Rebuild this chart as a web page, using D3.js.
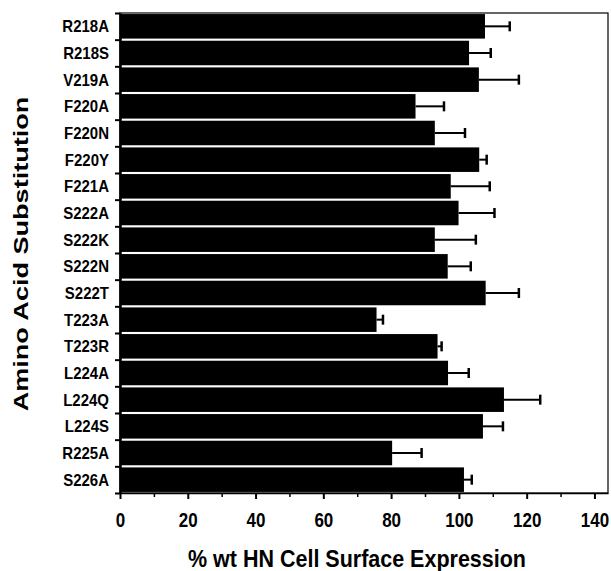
<!DOCTYPE html>
<html lang="en">
<head>
<meta charset="utf-8">
<title>HN Cell Surface Expression</title>
<script src="https://d3js.org/d3.v7.min.js"></script>
<style>
  body { margin: 0; background: #fff; }
  text { font-family: "Liberation Sans", Arial, sans-serif; font-weight: bold; fill: #000; }
</style>
</head>
<body>
<div id="vis"></div>
<script>
// substitutions, top to bottom
const categories = ["R218A", "R218S", "V219A", "F220A", "F220N", "F220Y", "F221A",
  "S222A", "S222K", "S222N", "S222T", "T223A", "T223R", "L224A", "L224Q",
  "L224S", "R225A", "S226A"];
// % wt HN cell surface expression
const values = [107.7, 103.0, 105.9, 87.2, 92.9, 106.0, 97.6, 99.9, 92.9, 96.7,
  107.9, 75.7, 93.7, 96.8, 113.3, 107.1, 80.3, 101.5];
// error (upper bar only)
const errors = [7.3, 6.4, 11.8, 8.4, 8.9, 2.2, 11.5, 10.6, 12.1, 6.8,
  9.8, 1.9, 1.2, 6.1, 10.7, 5.9, 8.7, 2.3];
const xTicks = [0, 20, 40, 60, 80, 100, 120, 140];

const width = 611, height = 571;
const plotLeft = 120, plotRight = 608, plotTop = 13, plotBottom = 493;

const svg = d3.select("#vis").append("svg")
  .attr("width", width)
  .attr("height", height);

const x = d3.scaleLinear().domain([0, 144]).range([plotLeft, plotRight]);
const y = d3.scaleBand().domain(categories).range([plotTop, plotBottom]).paddingInner(0.08).paddingOuter(0.04);
const yIdx = d3.scaleLinear().domain([0, categories.length]).range([plotTop, plotBottom]);

// frame
svg.append("rect")
  .attr("x", plotLeft).attr("y", plotTop)
  .attr("width", plotRight - plotLeft).attr("height", plotBottom - plotTop)
  .attr("fill", "none").attr("stroke", "#000").attr("stroke-width", 1.2);

// bars
svg.selectAll(".bar")
  .data(categories)
  .enter().append("rect")
  .attr("class", "bar")
  .attr("x", x(0))
  .attr("y", d => y(d))
  .attr("width", (d, i) => x(values[i]) - x(0))
  .attr("height", y.bandwidth())
  .attr("fill", "#000");

// error bars
const eb = svg.selectAll(".err").data(categories).enter().append("g").attr("class", "err");
eb.append("line")
  .attr("x1", (d, i) => x(values[i]))
  .attr("x2", (d, i) => x(values[i] + errors[i]))
  .attr("y1", d => y(d) + y.bandwidth() / 2)
  .attr("y2", d => y(d) + y.bandwidth() / 2)
  .attr("stroke", "#000").attr("stroke-width", 2);
eb.append("line")
  .attr("x1", (d, i) => x(values[i] + errors[i]))
  .attr("x2", (d, i) => x(values[i] + errors[i]))
  .attr("y1", d => y(d) + y.bandwidth() / 2 - 5)
  .attr("y2", d => y(d) + y.bandwidth() / 2 + 5)
  .attr("stroke", "#000").attr("stroke-width", 2.5);

// x axis: minor then major ticks
svg.append("g")
  .attr("transform", "translate(0," + plotBottom + ")")
  .call(d3.axisBottom(x).tickValues(d3.range(10, 141, 20)).tickSize(4).tickSizeOuter(0).tickFormat(""))
  .call(g => g.select(".domain").remove())
  .call(g => g.selectAll("line").attr("stroke-width", 1.5));

const xAxis = svg.append("g")
  .attr("transform", "translate(0," + plotBottom + ")")
  .call(d3.axisBottom(x).tickValues(xTicks).tickSize(6).tickSizeOuter(0));
xAxis.select(".domain").attr("stroke-width", 1.5);
xAxis.selectAll("line").attr("stroke-width", 2);
xAxis.selectAll("text")
  .attr("font-size", 17)
  .attr("dy", null)
  .attr("y", 0)
  .attr("transform", "translate(0,34) scale(1,1.15)");

// y axis: tick marks at row boundaries
svg.append("g")
  .attr("transform", "translate(" + plotLeft + ",0)")
  .call(d3.axisLeft(yIdx).tickValues(d3.range(categories.length + 1)).tickSize(5).tickSizeOuter(0).tickFormat(""))
  .call(g => g.select(".domain").attr("stroke-width", 2.5))
  .call(g => g.selectAll("line").attr("stroke-width", 2));

// y axis labels
const yAxis = svg.append("g")
  .attr("transform", "translate(" + (plotLeft - 11) + ",0)")
  .call(d3.axisLeft(y).tickSize(0).tickPadding(0));
yAxis.select(".domain").remove();
yAxis.selectAll("text")
  .attr("font-size", 15)
  .attr("dy", null)
  .attr("y", 0)
  .attr("transform", "translate(0,6) scale(1,1.1)");

// axis titles
svg.append("text")
  .attr("text-anchor", "middle")
  .attr("font-size", 21.5)
  .attr("transform", "translate(357,567) scale(1,1.12)")
  .text("% wt HN Cell Surface Expression");

svg.append("text")
  .attr("text-anchor", "middle")
  .attr("font-size", 20.5)
  .attr("transform", "translate(28,254) rotate(-90) scale(1.32,1)")
  .text("Amino Acid Substitution");
</script>
</body>
</html>
